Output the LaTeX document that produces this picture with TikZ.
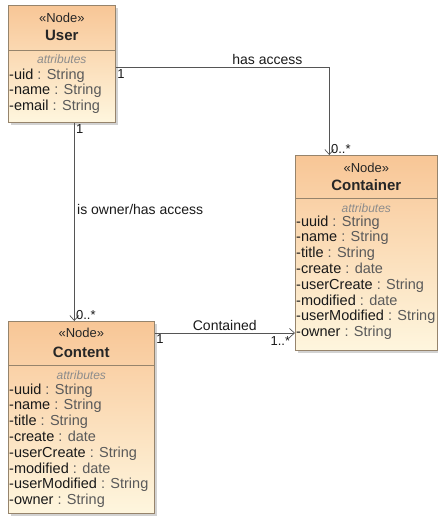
\documentclass[tikz,border=0pt]{standalone}
\usepackage{fontspec}
\setmainfont{Liberation Sans}
\usetikzlibrary{arrows.meta,shadows,positioning}
\definecolor{boxtop}{RGB}{248,198,150}
\definecolor{boxbottom}{RGB}{254,246,222}
\definecolor{boxline}{RGB}{150,132,108}
\definecolor{linkgray}{RGB}{85,85,85}
\definecolor{typegray}{RGB}{90,90,90}
\definecolor{labelgray}{RGB}{140,140,140}

\begin{document}
\begin{tikzpicture}[x=1pt,y=-1pt,
                    classbox/.style={draw=boxline, line width=0.6pt, anchor=north west,
                                     top color=boxtop, bottom color=boxbottom, inner sep=0pt,
                                     drop shadow={shadow xshift=2.5pt, shadow yshift=-2.5pt, fill=black!35}},
                    stereo/.style={inner sep=0pt, font=\fontsize{13}{15}\selectfont, text=black!85},
                    cname/.style={inner sep=0pt, font=\fontsize{15}{17}\selectfont\bfseries, text=black!85},
                    attrhead/.style={inner sep=0pt, font=\fontsize{12}{14}\selectfont\itshape, text=labelgray},
                    attr/.style={inner sep=0pt, anchor=west, text height=11pt, text depth=3pt,
                                 font=\fontsize{14.5}{16}\selectfont, text=black!90},
                    divider/.style={draw=boxline, line width=0.6pt},
                    assoc/.style={draw=linkgray, line width=0.7pt, -{Straight Barb[length=5pt,width=9pt]}},
                    elabel/.style={inner sep=1.5pt, font=\fontsize{14}{16}\selectfont, text=black!90},
                    mult/.style={inner sep=1.5pt, font=\fontsize{13}{15}\selectfont, text=black!90}]
    \useasboundingbox (0,0) rectangle (438,517);

    \node[classbox, minimum width=107pt, minimum height=117pt] (user) at (8,5) {};
    \node[stereo] (user-st) at ([yshift=-12.5pt]user.north) {«Node»};
    \node[cname] (user-nm) at ([yshift=-30.5pt]user.north) {User};
    \draw[divider] ([yshift=-45pt]user.north west) -- ([yshift=-45pt]user.north east);
    \node[attrhead] (user-ah) at ([yshift=-54pt]user.north) {attributes};
    \foreach \an/\at [count=\i from 0] in {uid/String,name/String,email/String}
        \node[attr] (user-a\i) at ([xshift=1pt,yshift=-70pt-15.8pt*\i]user.north west)
            {-\an{} \textcolor{typegray}{: \at}};

    \node[classbox, minimum width=142pt, minimum height=195pt] (container) at (295,155) {};
    \node[stereo] (container-st) at ([yshift=-13pt]container.north) {«Node»};
    \node[cname] (container-nm) at ([yshift=-30.5pt]container.north) {Container};
    \draw[divider] ([yshift=-43pt]container.north west) -- ([yshift=-43pt]container.north east);
    \node[attrhead] (container-ah) at ([yshift=-53pt]container.north) {attributes};
    \foreach \an/\at [count=\i from 0] in {uuid/String,name/String,title/String,create/date,
                                        userCreate/String,modified/date,userModified/String,owner/String}
        \node[attr] (container-a\i) at ([xshift=1pt,yshift=-67pt-15.8pt*\i]container.north west)
            {-\an{} \textcolor{typegray}{: \at}};

    \node[classbox, minimum width=146pt, minimum height=192pt] (content) at (8,321) {};
    \node[stereo] (content-st) at ([yshift=-12pt]content.north) {«Node»};
    \node[cname] (content-nm) at ([yshift=-31pt]content.north) {Content};
    \draw[divider] ([yshift=-44pt]content.north west) -- ([yshift=-44pt]content.north east);
    \node[attrhead] (content-ah) at ([yshift=-54pt]content.north) {attributes};
    \foreach \an/\at [count=\i from 0] in {uuid/String,name/String,title/String,create/date,
                                        userCreate/String,modified/date,userModified/String,owner/String}
        \node[attr] (content-a\i) at ([xshift=1pt,yshift=-69pt-15.8pt*\i]content.north west)
            {-\an{} \textcolor{typegray}{: \at}};

    \coordinate (access-out) at ([yshift=-3.5pt]user.east);
    \coordinate (access-in) at ([xshift=-37pt]container.north);
    \draw[assoc] (access-out) -| (access-in)
        node[mult, pos=0, below right] {1}
        node[elabel, pos=0.355, above=1pt] {has access}
        node[mult, pos=1, above right] {0..*};

    \coordinate (owner-out) at ([xshift=12.5pt]user.south);
    \draw[assoc] (owner-out) -- (owner-out |- content.north)
        node[mult, pos=0, below right] {1}
        node[elabel, pos=0.437, right=1pt] {is owner/has access}
        node[mult, pos=1, above right] {0..*};

    \coordinate (contained-out) at ([yshift=-12pt]content.north east);
    \draw[assoc] (contained-out) -- (contained-out -| container.west)
        node[mult, pos=0, below right] {1}
        node[elabel, pos=0.5, above=1pt] {Contained}
        node[mult, pos=1, below left=1.5pt and 3pt] {1..*};
\end{tikzpicture}
\end{document}
